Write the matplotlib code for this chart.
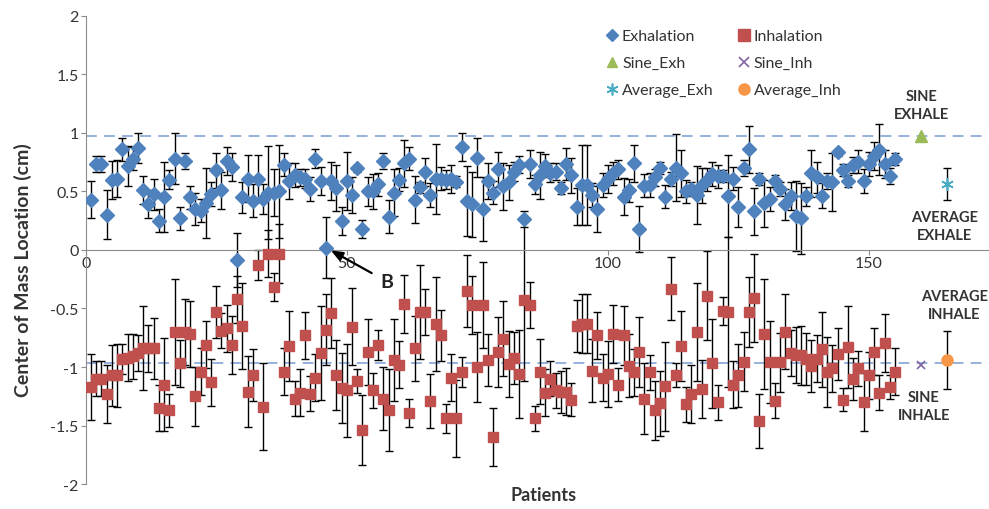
import numpy as np
import matplotlib.pyplot as plt
from matplotlib.lines import Line2D

plt.rcParams['font.family'] = ['Lato', 'DejaVu Sans']

# per-patient centre of mass (cm) and error bar half-widths
exh = [0.43, 0.735, 0.735, 0.30, 0.60, 0.61, 0.86, 0.715, 0.78, 0.87,
       0.51, 0.39, 0.475, 0.25, 0.455, 0.60, 0.78, 0.27, 0.76, 0.45,
       0.35, 0.335, 0.40, 0.48, 0.68, 0.51, 0.76, 0.71, -0.085, 0.45,
       0.61, 0.42, 0.61, 0.435, 0.49, 0.49, 0.50, 0.73, 0.59, 0.64,
       0.62, 0.61, 0.52, 0.78, 0.59, 0.02, 0.59, 0.53, 0.25, 0.59,
       0.47, 0.70, 0.18, 0.50, 0.50, 0.56, 0.76, 0.285, 0.49, 0.60,
       0.74, 0.78, 0.43, 0.535, 0.67, 0.47, 0.61, 0.61, 0.60, 0.61,
       0.585, 0.88, 0.42, 0.39, 0.79, 0.35, 0.59, 0.49, 0.69, 0.545,
       0.58, 0.67, 0.73, 0.265, 0.735, 0.56, 0.64, 0.72, 0.66, 0.67,
       0.53, 0.735, 0.64, 0.37, 0.555, 0.555, 0.47, 0.35, 0.555, 0.607,
       0.655, 0.69, 0.455, 0.51, 0.74, 0.18, 0.55, 0.555, 0.62, 0.70,
       0.455, 0.607, 0.705, 0.655, 0.50, 0.52, 0.47, 0.555, 0.60, 0.65,
       0.63, 0.63, 0.46, 0.61, 0.37, 0.70, 0.86, 0.33, 0.607, 0.40,
       0.435, 0.59, 0.52, 0.39, 0.46, 0.29, 0.27, 0.46, 0.655, 0.62,
       0.465, 0.59, 0.58, 0.835, 0.686, 0.59, 0.727, 0.755, 0.59, 0.735,
       0.806, 0.857, 0.735, 0.63, 0.78]
exh_err = [0.16, 0.07, 0.07, 0.21, 0.16, 0.16, 0.10, 0.17, 0.10, 0.13,
           0.12, 0.12, 0.13, 0.10, 0.30, 0.08, 0.22, 0.10, 0.07, 0.10,
           0.14, 0.10, 0.30, 0.10, 0.15, 0.16, 0.12, 0.12, 0.23, 0.13,
           0.20, 0.14, 0.20, 0.13, 0.40, 0.20, 0.40, 0.10, 0.15, 0.10,
           0.07, 0.08, 0.10, 0.08, 0.12, 0.26, 0.16, 0.20, 0.12, 0.25,
           0.15, 0.03, 0.08, 0.12, 0.15, 0.10, 0.07, 0.14, 0.20, 0.10,
           0.20, 0.10, 0.20, 0.05, 0.12, 0.10, 0.30, 0.10, 0.08, 0.12,
           0.05, 0.12, 0.30, 0.28, 0.17, 0.27, 0.15, 0.10, 0.15, 0.20,
           0.15, 0.08, 0.07, 0.07, 0.12, 0.08, 0.20, 0.10, 0.08, 0.07,
           0.05, 0.14, 0.15, 0.16, 0.34, 0.34, 0.10, 0.20, 0.10, 0.12,
           0.10, 0.08, 0.16, 0.10, 0.16, 0.20, 0.10, 0.10, 0.07, 0.05,
           0.10, 0.06, 0.29, 0.20, 0.10, 0.06, 0.25, 0.15, 0.10, 0.10,
           0.10, 0.05, 0.35, 0.10, 0.17, 0.07, 0.20, 0.20, 0.05, 0.20,
           0.10, 0.05, 0.06, 0.13, 0.12, 0.30, 0.30, 0.08, 0.20, 0.13,
           0.11, 0.07, 0.25, 0.03, 0.05, 0.05, 0.07, 0.10, 0.10, 0.10,
           0.12, 0.22, 0.12, 0.07, 0.05]
inh = [-1.17, -1.10, -1.10, -1.23, -1.07, -1.07, -0.93, -0.92, -0.91, -0.88,
       -0.84, -0.84, -0.84, -1.35, -1.15, -1.37, -0.70, -0.97, -0.70, -0.72,
       -1.25, -1.04, -0.81, -1.13, -0.53, -0.69, -0.67, -0.81, -0.42, -0.65,
       -1.21, -1.07, -0.13, -1.34, -0.03, -0.32, -0.03, -1.04, -0.82, -1.27,
       -1.22, -0.73, -1.23, -1.09, -0.88, -0.68, -0.54, -1.07, -1.18, -1.20,
       -0.655, -1.12, -1.54, -0.87, -1.20, -0.81, -1.27, -1.37, -0.94, -0.98,
       -0.46, -1.39, -0.84, -0.53, -0.53, -1.29, -0.63, -0.73, -1.44, -1.09,
       -1.44, -1.045, -0.35, -0.47, -1.00, -0.47, -0.94, -1.60, -0.87, -0.76,
       -0.975, -0.925, -1.06, -0.43, -0.47, -1.44, -1.04, -1.22, -1.10, -1.20,
       -1.21, -1.21, -1.28, -0.65, -0.63, -0.63, -1.03, -0.73, -1.09, -1.06,
       -0.72, -1.15, -0.73, -0.99, -1.045, -0.87, -1.27, -1.045, -1.37, -1.31,
       -1.165, -0.33, -1.07, -0.82, -1.32, -1.23, -0.70, -1.19, -0.39, -0.97,
       -1.30, -0.52, -0.53, -1.15, -1.07, -0.955, -0.53, -0.41, -1.46, -0.72,
       -0.955, -1.29, -0.96, -0.70, -0.88, -0.90, -0.90, -0.93, -0.99, -0.93,
       -0.85, -1.045, -1.01, -0.89, -1.28, -0.83, -1.10, -1.01, -1.30, -1.07,
       -0.87, -1.22, -0.795, -1.17, -1.04]
inh_err = [0.28, 0.15, 0.15, 0.25, 0.26, 0.27, 0.13, 0.20, 0.19, 0.15,
           0.36, 0.20, 0.26, 0.20, 0.40, 0.14, 0.45, 0.20, 0.28, 0.28,
           0.25, 0.20, 0.20, 0.20, 0.22, 0.15, 0.20, 0.25, 0.20, 0.37,
           0.30, 0.22, 0.13, 0.37, 0.20, 0.12, 0.25, 0.20, 0.30, 0.15,
           0.20, 0.20, 0.15, 0.20, 0.40, 0.30, 0.30, 0.30, 0.30, 0.40,
           0.33, 0.10, 0.30, 0.28, 0.15, 0.13, 0.27, 0.35, 0.35, 0.20,
           0.25, 0.12, 0.28, 0.40, 0.20, 0.23, 0.40, 0.22, 0.12, 0.20,
           0.33, 0.13, 0.31, 0.25, 0.30, 0.37, 0.22, 0.25, 0.30, 0.32,
           0.28, 0.22, 0.38, 0.69, 0.20, 0.11, 0.28, 0.20, 0.15, 0.15,
           0.18, 0.20, 0.14, 0.22, 0.25, 0.25, 0.27, 0.20, 0.20, 0.28,
           0.25, 0.14, 0.25, 0.27, 0.20, 0.30, 0.30, 0.15, 0.25, 0.28,
           0.38, 0.27, 0.10, 0.30, 0.15, 0.25, 0.42, 0.25, 0.38, 0.38,
           0.15, 0.12, 0.64, 0.20, 0.27, 0.25, 0.30, 0.38, 0.23, 0.47,
           0.35, 0.15, 0.25, 0.32, 0.20, 0.24, 0.25, 0.22, 0.22, 0.20,
           0.32, 0.30, 0.20, 0.22, 0.10, 0.35, 0.18, 0.15, 0.25, 0.20,
           0.20, 0.15, 0.25, 0.10, 0.20]
patients = np.arange(1, len(exh) + 1)

# reference sine and average positions
sine_x, avg_x = 160, 165
sine_exh, sine_inh = 0.975, -0.98
avg_exh, avg_exh_err = 0.565, 0.14
avg_inh, avg_inh_err = -0.94, 0.25

yticks = [-2, -1.5, -1, -0.5, 0, 0.5, 1, 1.5, 2]
ylabels = ['-2', '-1.5', '-1', '-0.5', '0', '0.5', '1', '1.5', '2']
xticks = [0, 50, 100, 150]

fig = plt.figure(figsize=(9.89, 5.10), dpi=100)
ax = fig.add_axes([0.0867, 0.049, 0.9133, 0.9177])

ax.axhline(sine_exh, color='#8eaadb', ls=(0, (6, 4)), lw=1.3, zorder=1)
ax.axhline(sine_inh + 0.015, color='#8eaadb', ls=(0, (6, 4)), lw=1.3, zorder=1)

eb = dict(fmt='none', ecolor='black', elinewidth=1, capsize=3, capthick=1, zorder=2)
ax.errorbar(patients, exh, yerr=exh_err, **eb)
ax.errorbar(patients, inh, yerr=inh_err, **eb)
ax.errorbar([avg_x], [avg_exh], yerr=[avg_exh_err], **eb)
ax.errorbar([avg_x], [avg_inh], yerr=[avg_inh_err], **eb)

ax.plot(patients, exh, 'D', color='#4f81bd', ms=7.2, ls='none', zorder=3)
ax.plot(patients, inh, 's', color='#c0504d', ms=7.5, ls='none', zorder=3)
ax.plot([sine_x], [sine_exh], '^', color='#9bbb59', ms=8, zorder=3)
ax.plot([sine_x], [sine_inh], 'x', color='#8064a2', ms=6, mew=1.2, zorder=3)
ax.plot([avg_x], [avg_exh], marker=(6, 2, 0), color='#4bacc6', ms=9, mew=1.2, zorder=3)
ax.plot([avg_x], [avg_inh], 'o', color='#f79646', ms=8, zorder=3)

ax.set_xlim(0, 173)
ax.set_ylim(-2, 2)
ax.set_yticks(yticks)
ax.set_yticklabels(ylabels)
ax.set_xticks(xticks)
ax.spines['top'].set_visible(False)
ax.spines['right'].set_visible(False)
ax.spines['bottom'].set_position(('data', 0))
for s in ['left', 'bottom']:
    ax.spines[s].set_color('#8c8c8c')
ax.tick_params(axis='both', direction='out', length=3.6, color='#8c8c8c',
               labelsize=11.5, labelcolor='#333333')
ax.tick_params(axis='y', pad=1.5)
ax.tick_params(axis='x', pad=1)

handles = [
    Line2D([], [], marker='D', color='#4f81bd', ls='none', ms=6),
    Line2D([], [], marker='^', color='#9bbb59', ls='none', ms=7.5),
    Line2D([], [], marker=(6, 2, 0), color='#4bacc6', ls='none', ms=8.5, mew=1.2),
    Line2D([], [], marker='s', color='#c0504d', ls='none', ms=8),
    Line2D([], [], marker='x', color='#8064a2', ls='none', ms=7, mew=1.2),
    Line2D([], [], marker='o', color='#f79646', ls='none', ms=8),
]
names = ['Exhalation', 'Sine_Exh', 'Average_Exh', 'Inhalation', 'Sine_Inh', 'Average_Inh']
fig.legend(handles, names, ncol=2, frameon=False, fontsize=11.5,
           loc='upper left', bbox_to_anchor=(605.7 / 989, 1 - 30 / 510),
           handlelength=0.75, handletextpad=0.27, columnspacing=1.5,
           labelspacing=0.8, borderpad=0, borderaxespad=0, labelcolor='#333333')

lab = dict(fontsize=10.5, fontweight='bold', ha='center', va='center',
           linespacing=1.35, color='#333333')
ax.text(160, 1.24, 'SINE\nEXHALE', **lab)
ax.text(164.5, 0.205, 'AVERAGE\nEXHALE', **lab)
ax.text(166.4, -0.473, 'AVERAGE\nINHALE', **lab)
ax.text(160.5, -1.33, 'SINE\nINHALE', **lab)

ax.annotate('B', xy=(46, 0.02), xytext=(57.7, -0.27), fontsize=14,
            fontweight='bold', ha='center', va='center', color='#222222',
            arrowprops=dict(arrowstyle='-|>,head_length=0.5,head_width=0.2',
                            color='black', lw=1.6, shrinkA=5, shrinkB=4,
                            mutation_scale=14))

fig.text(23 / 989, 1 - 270 / 510, 'Center of Mass Location (cm)', rotation=90,
         fontsize=14, fontweight='bold', ha='center', va='center', color='#333333')
fig.text(544 / 989, 1 - 496 / 510, 'Patients', fontsize=13, fontweight='bold',
         ha='center', va='center', color='#333333')

fig.savefig('out.png', dpi=100)
